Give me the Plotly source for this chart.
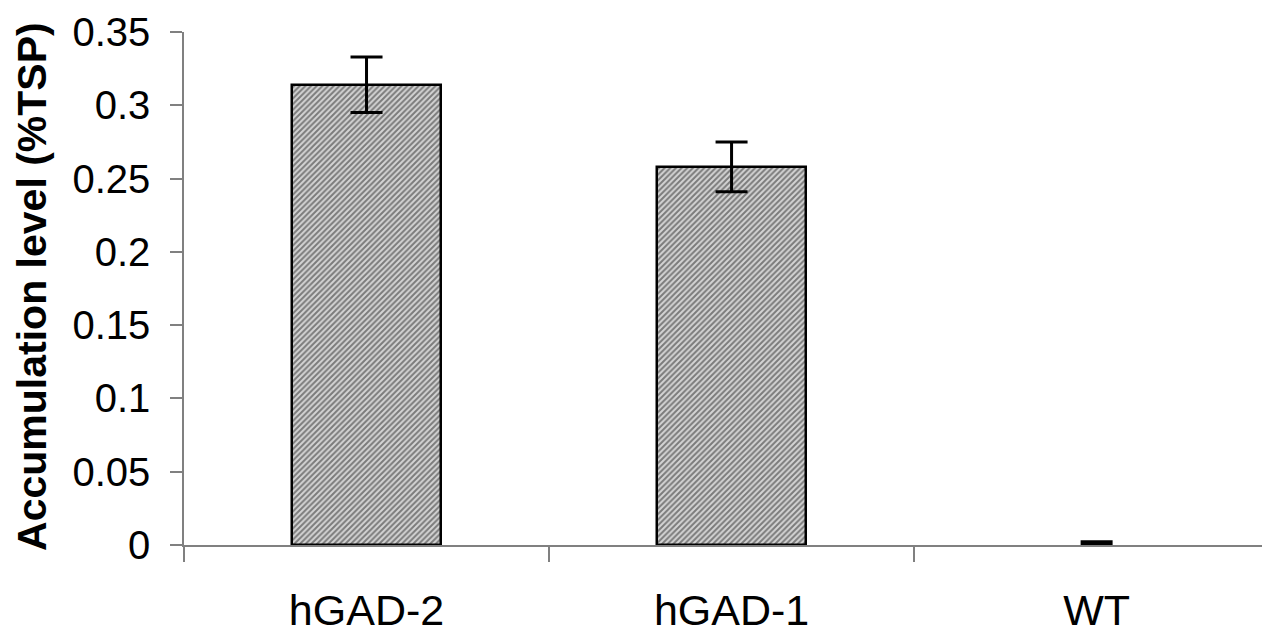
import plotly.graph_objects as go

categories = ["hGAD-2", "hGAD-1", "WT"]
values = [0.314, 0.258, 0.0013]
errors = [0.019, 0.017, 0.0009]
y_ticks = [0, 0.05, 0.1, 0.15, 0.2, 0.25, 0.3, 0.35]
y_tick_labels = ["0", "0.05", "0.1", "0.15", "0.2", "0.25", "0.3", "0.35"]
y_title = "Accumulation level (%TSP)"

fig = go.Figure()
fig.add_trace(go.Bar(
    x=categories,
    y=values,
    width=0.41,
    marker=dict(
        color="#999999",
        opacity=[1, 1, 0],
        line=dict(color="black", width=[2.5, 2.5, 0]),
        pattern=dict(shape="/", fgcolor="#222222", bgcolor="#d4d4d4", size=4, solidity=0.5),
    ),
    error_y=dict(type="data", array=errors, visible=True, color="black", thickness=3, width=16),
    showlegend=False,
))

# page has an 8px body margin, so the figure is sized 1262x626
fig.update_layout(
    width=1262,
    height=626,
    paper_bgcolor="white",
    plot_bgcolor="white",
    margin=dict(l=176, r=0, t=24, b=89),
    font=dict(family="Liberation Sans, Arial, sans-serif", color="black"),
    bargap=0,
    annotations=[dict(
        text="<b>" + y_title + "</b>",
        textangle=-90,
        xref="paper", yref="paper",
        x=-0.140, y=0.505,
        xanchor="center", yanchor="middle",
        showarrow=False,
        font=dict(size=41, color="black"),
    )],
)
fig.update_xaxes(
    range=[-0.5, 2.475],
    automargin=False,
    showline=True,
    linecolor="#808080",
    linewidth=1.5,
    ticks="outside",
    tickson="boundaries",
    ticklen=15,
    tickcolor="#808080",
    tickwidth=1.5,
    tickfont=dict(size=43, color="black"),
    ticklabelstandoff=27,
    showgrid=False,
    zeroline=False,
)
fig.update_yaxes(
    range=[0, 0.35],
    automargin=False,
    tickvals=y_ticks,
    ticktext=y_tick_labels,
    showline=True,
    linecolor="#808080",
    linewidth=1.5,
    ticks="outside",
    ticklen=12,
    tickcolor="#808080",
    tickwidth=1.5,
    tickfont=dict(size=40, color="black"),
    ticklabelstandoff=12,
    showgrid=False,
    zeroline=False,
)

fig.write_html("out.html")
